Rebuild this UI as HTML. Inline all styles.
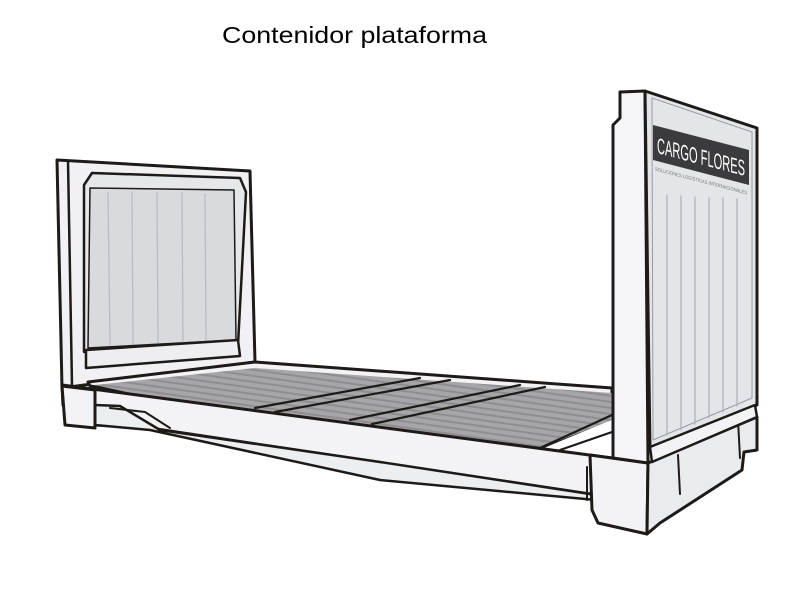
<!DOCTYPE html>
<html><head><meta charset="utf-8"><style>
html,body{margin:0;padding:0;background:#fff;width:800px;height:600px;overflow:hidden}
</style></head><body>
<svg width="800" height="600" viewBox="0 0 800 600" xmlns="http://www.w3.org/2000/svg">
<defs>
<pattern id="slat" width="6" height="6" patternUnits="userSpaceOnUse" patternTransform="rotate(8)">
<rect width="6" height="6" fill="#a6a6a8"/><rect width="6" height="2" fill="#8e8e90"/>
</pattern>
</defs>
<text x="222" y="43" font-family="Liberation Sans, sans-serif" font-size="23" textLength="265" lengthAdjust="spacingAndGlyphs" fill="#000">Contenidor plataforma</text>
<g stroke="#1e1a18" stroke-linejoin="round" stroke-linecap="round">
<!-- left end wall -->
<polygon points="57,160 250,171 255,362 62,388" fill="#f1f1f3" stroke-width="3"/>
<line x1="68" y1="161" x2="72" y2="386" stroke-width="2.5"/>
<polygon points="92,173 240,178 246,192 238,345 84,352 84,185" fill="#e6e7ea" stroke-width="2.5"/>
<polygon points="90,188 234,190 236,340 88,348" fill="#d9dade" stroke-width="1.5"/>
<g stroke="#b9bac0" stroke-width="1.2">
<line x1="108" y1="192" x2="110" y2="345"/><line x1="132" y1="192" x2="133" y2="344"/>
<line x1="157" y1="193" x2="158" y2="343"/><line x1="182" y1="193" x2="183" y2="342"/>
<line x1="205" y1="194" x2="206" y2="341"/>
</g>
<polygon points="86,350 238,340 240,356 86,368" fill="#eeeef0" stroke-width="2.5"/>
<!-- deck -->
<polygon points="88,382 255,362 612,388 612,418 540,448 90,386" fill="#f3f3f5" stroke-width="3"/>
<polygon points="95,385 255,368 612,393 612,420 540,448 250,410 140,395" fill="url(#slat)" stroke="none"/>
<g stroke-width="2.2">
<line x1="255" y1="408" x2="420" y2="378"/><line x1="275" y1="412" x2="450" y2="380"/>
<line x1="350" y1="420" x2="520" y2="385"/><line x1="372" y1="424" x2="545" y2="387"/>
<line x1="540" y1="448" x2="612" y2="415"/><line x1="560" y1="450" x2="612" y2="432"/>
</g>
<!-- front rail -->
<polygon points="62,385 612,458 612,470 590,494 150,428 95,425 95,405 63,405" fill="#f3f3f5" stroke-width="3"/>
<polygon points="95,405 120,406 160,430 380,462 590,494 596,500 380,480 150,430 95,425" fill="#eceef0" stroke-width="2.5"/>
<polyline points="110,408 145,412 170,428" fill="none" stroke-width="2"/>
<polygon points="62,386 95,390 95,428 65,425" fill="#f3f3f5" stroke-width="3"/>
<!-- right post and block -->
<polygon points="590,455 648,463 647,534 598,523 592,510" fill="#f3f3f5" stroke-width="3"/>
<line x1="587" y1="467" x2="587" y2="500" stroke-width="2"/>
<polygon points="648,463 757,417 757,450 744,452 742,470 660,523 647,534" fill="#eaebee" stroke-width="3"/>
<line x1="678" y1="455" x2="680" y2="494" stroke-width="2"/>
<line x1="738" y1="420" x2="740" y2="458" stroke-width="2"/>
<polygon points="620,92 645,91 648,463 613,458 613,125 620,118" fill="#f5f5f7" stroke-width="3"/>
<polygon points="645,91 757,128 757,405 650,450" fill="#e4e5e9" stroke-width="3"/>
<polygon points="650,447 755,405 757,417 652,462" fill="#f3f3f5" stroke-width="2.5"/>
<polygon points="652,98 752,132 752,398 653,440" fill="none" stroke="#9a9ba0" stroke-width="1"/>
<g stroke="#aeafb5" stroke-width="1.2">
<line x1="667" y1="195" x2="667" y2="435"/><line x1="681" y1="196" x2="681" y2="430"/>
<line x1="695" y1="197" x2="695" y2="424"/><line x1="709" y1="198" x2="709" y2="418"/>
<line x1="723" y1="198" x2="723" y2="412"/><line x1="737" y1="199" x2="737" y2="406"/>
</g>
</g>
<g transform="translate(653,125) skewY(14.6)">
<rect x="0" y="0" width="96" height="35" fill="#3b3a3c"/>
<text x="4" y="27" font-family="Liberation Sans, sans-serif" font-size="22" fill="#fff" textLength="88" lengthAdjust="spacingAndGlyphs">CARGO FLORES</text>
<text x="2" y="45" font-family="Liberation Sans, sans-serif" font-size="5" fill="#777" textLength="92" lengthAdjust="spacingAndGlyphs">SOLUCIONES LOGÍSTICAS INTERNACIONALES</text>
</g>
</svg>
</body></html>
